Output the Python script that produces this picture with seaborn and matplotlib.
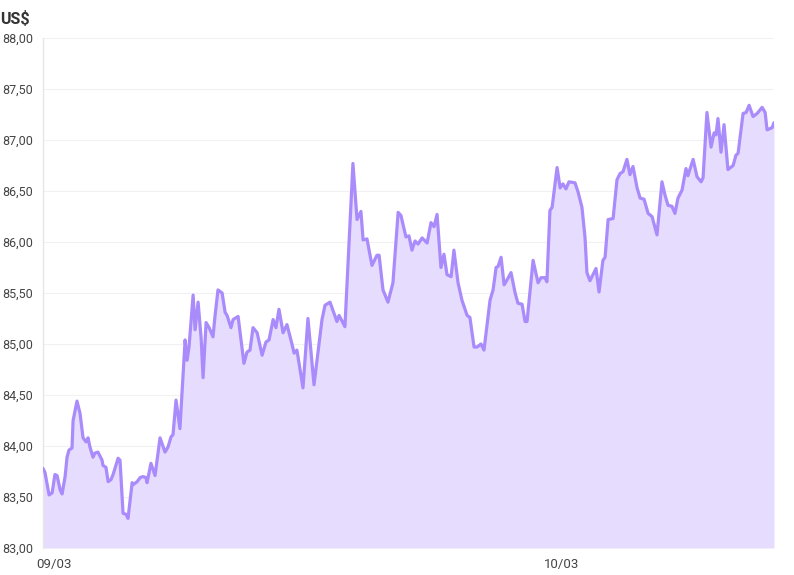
import pandas as pd
import matplotlib
matplotlib.use('Agg')
import matplotlib.pyplot as plt
import matplotlib.transforms as mtransforms
import seaborn as sns

# Hours since 09/03 00:00 and price in US$
hours = [
    0.00, 0.09, 0.28, 0.42, 0.55, 0.65, 0.79, 0.88, 1.02, 1.11, 1.20, 1.34, 1.39, 1.57, 1.71,
    1.85, 1.99, 2.08, 2.17, 2.31, 2.40, 2.54, 2.73, 2.77, 2.91, 3.01, 3.14, 3.24, 3.47, 3.56,
    3.70, 3.84, 3.93, 4.12, 4.16, 4.35, 4.49, 4.62, 4.76, 4.81, 4.99, 5.18, 5.41, 5.64, 5.78,
    5.92, 6.01, 6.15, 6.33, 6.57, 6.66, 6.75, 6.94, 7.03, 7.17, 7.31, 7.40, 7.54, 7.68, 7.86,
    7.95, 8.09, 8.28, 8.42, 8.51, 8.69, 8.79, 9.02, 9.29, 9.43, 9.57, 9.71, 9.90, 10.13, 10.31,
    10.45, 10.64, 10.77, 10.91, 11.10, 11.28, 11.51, 11.61, 11.74, 12.02, 12.25, 12.53, 12.90,
    13.04, 13.27, 13.59, 13.69, 13.96, 14.33, 14.52, 14.70, 14.80, 14.98, 15.21, 15.44, 15.54,
    15.72, 15.95, 16.18, 16.42, 16.55, 16.78, 16.92, 17.06, 17.20, 17.34, 17.53, 17.76, 17.94,
    18.08, 18.22, 18.40, 18.54, 18.68, 18.87, 19.00, 19.19, 19.37, 19.61, 19.74, 19.93, 20.07,
    20.25, 20.39, 20.67, 20.81, 20.95, 21.04, 21.18, 21.32, 21.46, 21.64, 21.83, 21.96, 22.15,
    22.29, 22.38, 22.66, 22.89, 23.03, 23.21, 23.30, 23.44, 23.54, 23.77, 23.91, 24.04, 24.18,
    24.32, 24.60, 24.74, 24.92, 25.06, 25.15, 25.29, 25.57, 25.71, 25.89, 25.99, 26.13, 26.36,
    26.54, 26.68, 26.82, 27.00, 27.14, 27.28, 27.47, 27.61, 27.79, 27.98, 28.16, 28.39, 28.62,
    28.76, 28.90, 29.08, 29.22, 29.36, 29.55, 29.73, 29.82, 30.06, 30.24, 30.43, 30.52, 30.70,
    30.89, 31.03, 31.12, 31.21, 31.35, 31.49, 31.67, 31.91, 32.04, 32.14, 32.37, 32.51, 32.65,
    32.83, 33.02, 33.25, 33.39, 33.48, 33.71, 33.80,
]
prices = [
    83.78, 83.74, 83.52, 83.54, 83.72, 83.71, 83.57, 83.53, 83.70, 83.89, 83.96, 83.98, 84.25, 84.44, 84.32,
    84.08, 84.04, 84.08, 83.99, 83.89, 83.93, 83.94, 83.86, 83.81, 83.79, 83.65, 83.67, 83.72, 83.88, 83.86,
    83.34, 83.33, 83.29, 83.64, 83.62, 83.65, 83.69, 83.70, 83.69, 83.64, 83.83, 83.71, 84.08, 83.94, 83.99,
    84.09, 84.11, 84.45, 84.17, 85.04, 84.84, 84.97, 85.48, 85.14, 85.41, 85.06, 84.67, 85.21, 85.16, 85.07,
    85.27, 85.53, 85.50, 85.31, 85.28, 85.16, 85.24, 85.27, 84.81, 84.92, 84.94, 85.16, 85.11, 84.89, 85.02,
    85.04, 85.24, 85.16, 85.34, 85.11, 85.19, 85.00, 84.91, 84.94, 84.57, 85.25, 84.60, 85.24,
    85.38, 85.41, 85.22, 85.28, 85.17, 86.77, 86.22, 86.30, 86.02, 86.03, 85.77, 85.87, 85.87,
    85.53, 85.41, 85.60, 86.29, 86.26, 86.05, 86.06, 85.92, 86.01, 85.98, 86.04, 85.99, 86.19,
    86.15, 86.27, 85.75, 85.88, 85.68, 85.66, 85.92, 85.60, 85.43, 85.28, 85.26, 84.97, 84.97,
    85.00, 84.94, 85.43, 85.53, 85.75, 85.76, 85.85, 85.58, 85.63, 85.70, 85.50, 85.40, 85.39,
    85.22, 85.22, 85.82, 85.60, 85.65, 85.65, 85.61, 86.31, 86.34, 86.73, 86.53, 86.57, 86.52,
    86.59, 86.58, 86.49, 86.34, 86.05, 85.70, 85.62, 85.74, 85.51, 85.82, 85.85, 86.22, 86.23,
    86.61, 86.67, 86.69, 86.81, 86.66, 86.74, 86.53, 86.43, 86.42, 86.28, 86.25, 86.07, 86.59,
    86.46, 86.36, 86.35, 86.28, 86.43, 86.51, 86.72, 86.65, 86.81, 86.64, 86.59, 86.63, 87.27,
    86.93, 87.07, 87.05, 87.21, 86.88, 87.15, 86.71, 86.75, 86.85, 86.87, 87.26, 87.27, 87.34,
    87.23, 87.26, 87.32, 87.27, 87.10, 87.12, 87.17,
]
y_ticks = [83.0, 83.5, 84.0, 84.5, 85.0, 85.5, 86.0, 86.5, 87.0, 87.5, 88.0]
x_ticks = [0, 24]
x_labels = ['09/03', '10/03']

df = pd.DataFrame({'hour': hours, 'price': prices})

sns.set_style('white')
plt.rcParams['font.family'] = ['Roboto', 'DejaVu Sans']

fig = plt.figure(figsize=(7.94, 5.75), dpi=100)
ax = fig.add_axes([0.0542, 0.047, 0.9206, 0.8869])

line_color = '#a98bfb'
ax.fill_between(df['hour'], 83.0, df['price'], color='#e6dcfe', linewidth=0, zorder=1)
sns.lineplot(data=df, x='hour', y='price', ax=ax, color=line_color, linewidth=2.3,
             sort=False, zorder=3)
ax.lines[-1].set_solid_joinstyle('round')
ax.lines[-1].set_solid_capstyle('round')

ax.set_xlim(0, 33.8)
ax.set_ylim(83.0, 88.0)
ax.set_yticks(y_ticks)
ax.set_yticklabels([f'{v:.2f}'.replace('.', ',') for v in y_ticks])
ax.set_xticks(x_ticks)
ax.set_xticklabels(x_labels)
ax.set_xlabel('')
ax.set_ylabel('')

ax.grid(axis='y', color='#f1f1f1', linewidth=0.8, zorder=0)
ax.set_axisbelow(True)
for side in ['top', 'right', 'bottom']:
    ax.spines[side].set_visible(False)
ax.spines['left'].set_color('#e6e6e6')
ax.spines['left'].set_linewidth(1.0)

ax.tick_params(axis='y', length=5, width=1, color='#e6e6e6', labelsize=9,
               labelcolor='#444444', pad=2)
ax.tick_params(axis='x', length=0, labelsize=9.5, labelcolor='#444444', pad=7)

# first date label sits flush with the left edge of the plot
first = ax.get_xticklabels()[0]
first.set_horizontalalignment('left')
first.set_transform(first.get_transform() +
                    mtransforms.ScaledTranslation(-5 / 72, 0, fig.dpi_scale_trans))

fig.text(0.0, 0.967, 'US$', fontsize=11.5, fontweight='bold', color='#333333',
         ha='left', va='center')

plt.savefig('out.png', dpi=100)
plt.close()
